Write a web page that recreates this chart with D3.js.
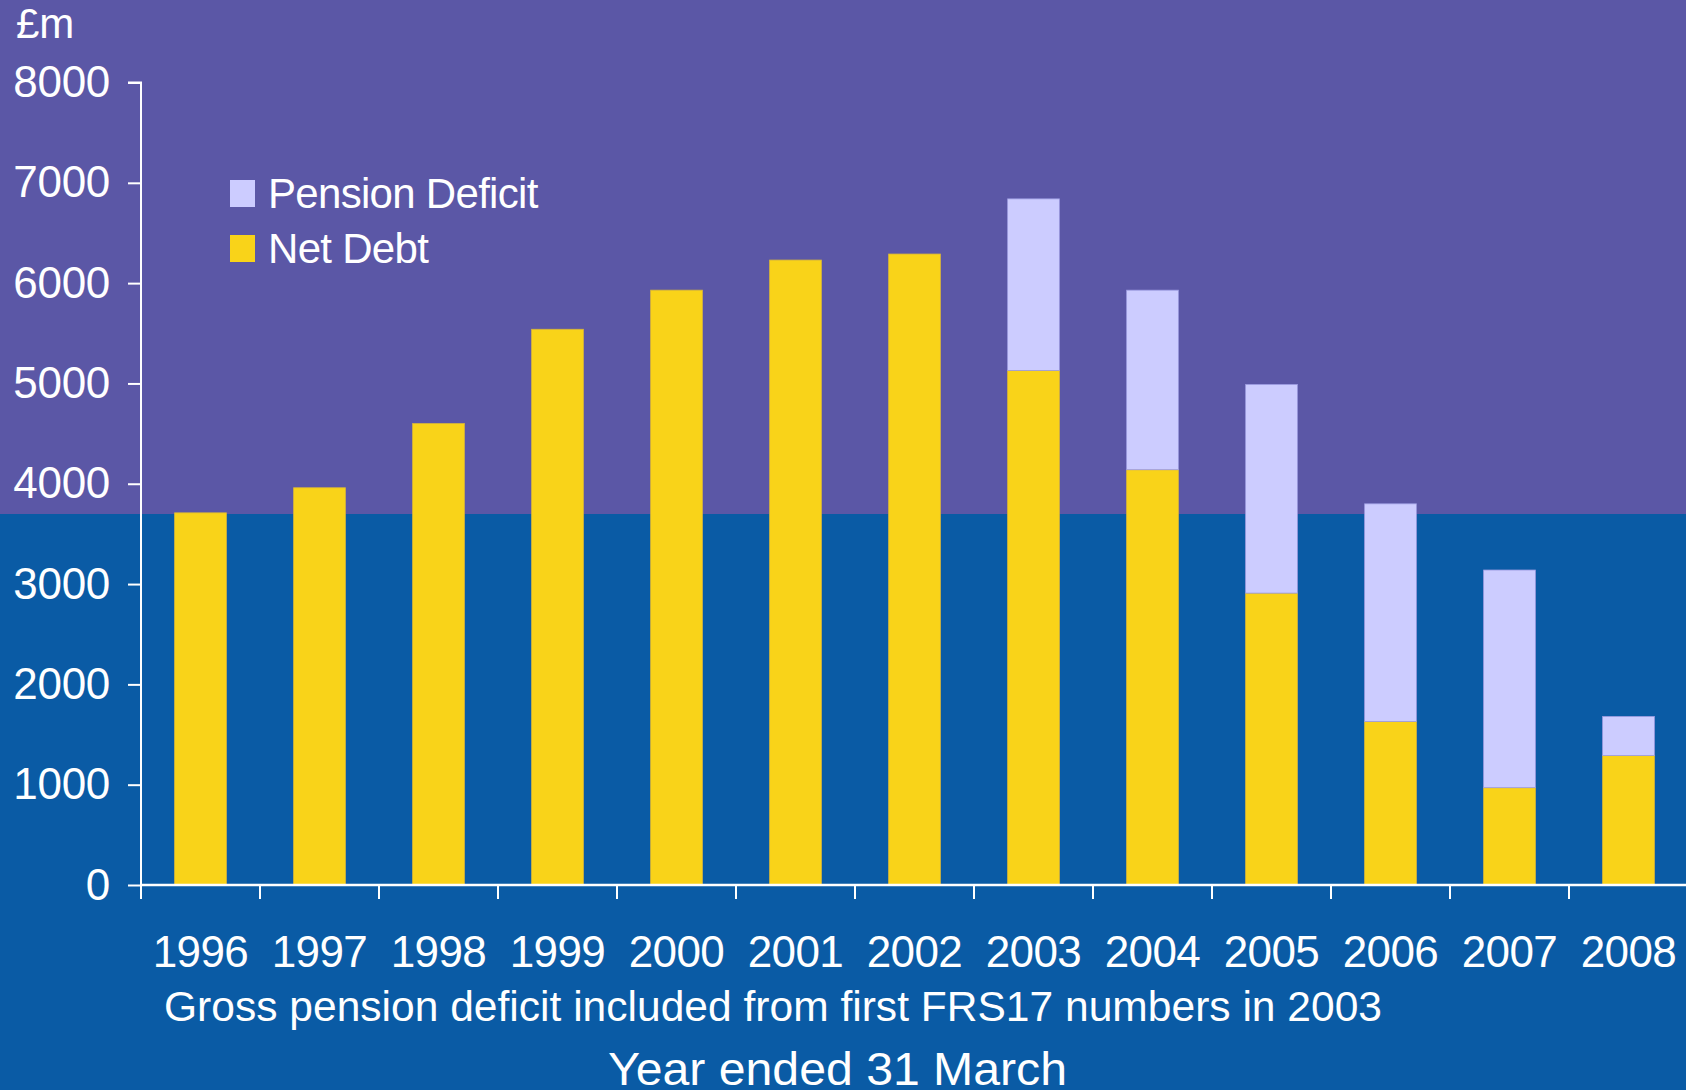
<!DOCTYPE html>
<html>
<head>
<meta charset="utf-8">
<script src="https://cdn.jsdelivr.net/npm/d3@7"></script>
<style>
  html, body { margin: 0; padding: 0; background: #0A5BA5; overflow: hidden; }
  svg { display: block; font-family: "Liberation Sans", Arial, sans-serif; }
</style>
</head>
<body>
<svg id="chart" width="1686" height="1090"></svg>
<script>
// Year ended 31 March
const years = ["1996", "1997", "1998", "1999", "2000", "2001", "2002",
               "2003", "2004", "2005", "2006", "2007", "2008"];
// £m
const netDebt        = [3710, 3960, 4600, 5540, 5930, 6230, 6290, 5130, 4140, 2910, 1630, 970, 1290];
const pensionDeficit = [0, 0, 0, 0, 0, 0, 0, 1710, 1790, 2080, 2170, 2170, 390];
const yTicks = [0, 1000, 2000, 3000, 4000, 5000, 6000, 7000, 8000];
const seriesNames = ["Net Debt", "Pension Deficit"];
const seriesColors = { "Net Debt": "#F9D319", "Pension Deficit": "#CCCCFF" };
const seriesEdges  = { "Net Debt": "#D8B63A", "Pension Deficit": "#9C9BE0" };

const W = 1686, H = 1090;
const left = 141, step = 119;
const svg = d3.select("#chart");

// two-tone backdrop
svg.append("rect").attr("x", 0).attr("y", 0).attr("width", W).attr("height", H).attr("fill", "#0A5BA5");
svg.append("rect").attr("x", 0).attr("y", 0).attr("width", W).attr("height", 514).attr("fill", "#5B57A6");

const y = d3.scaleLinear().domain([0, 8000]).range([885, 82.5]);
const xOuter = d3.scaleBand().domain(years).range([left, left + step * years.length]).padding(0);
const x = d3.scaleBand().domain(years).range([left, left + step * years.length])
  .paddingInner(0.565).paddingOuter(0.2825);

const table = years.map((yr, i) => ({ year: yr, "Net Debt": netDebt[i], "Pension Deficit": pensionDeficit[i] }));
const stacked = d3.stack().keys(seriesNames)(table);

// stacked bars
svg.append("g").selectAll("g").data(stacked).join("g")
  .attr("fill", d => seriesColors[d.key])
  .attr("stroke", d => seriesEdges[d.key])
  .attr("stroke-width", 0.8)
  .selectAll("rect")
  .data(d => d.filter(p => p[1] - p[0] > 0))
  .join("rect")
  .attr("x", d => x(d.data.year))
  .attr("width", x.bandwidth())
  .attr("y", d => y(d[1]))
  .attr("height", d => y(d[0]) - y(d[1]));

// y axis
const yAxis = svg.append("g").attr("transform", `translate(${left},0)`)
  .call(d3.axisLeft(y).tickValues(yTicks).tickFormat(d3.format("d")).tickSize(13).tickPadding(18));
yAxis.select(".domain").attr("stroke", "#fff").attr("stroke-width", 2).attr("d", `M-13,${y(8000)}H0V${y(0)}`);
yAxis.selectAll(".tick line").attr("stroke", "#fff").attr("stroke-width", 2);
yAxis.selectAll(".tick text").attr("fill", "#fff").attr("font-size", 44)
  .attr("font-family", "Liberation Sans, Arial, sans-serif").attr("letter-spacing", -0.3);

// x axis: line along zero with ticks at category boundaries
const xg = svg.append("g");
xg.append("line").attr("x1", left).attr("x2", W).attr("y1", y(0)).attr("y2", y(0))
  .attr("stroke", "#fff").attr("stroke-width", 2.5);
xg.selectAll("line.tk").data(years).join("line").attr("class", "tk")
  .attr("x1", d => xOuter(d)).attr("x2", d => xOuter(d))
  .attr("y1", y(0)).attr("y2", y(0) + 14)
  .attr("stroke", "#fff").attr("stroke-width", 2);
xg.selectAll("text").data(years).join("text")
  .attr("x", d => xOuter(d) + xOuter.bandwidth() / 2)
  .attr("y", 967)
  .attr("text-anchor", "middle")
  .attr("fill", "#fff").attr("font-size", 44).attr("letter-spacing", -0.6)
  .text(d => d);

// unit label
svg.append("text").attr("x", 16).attr("y", 38).attr("fill", "#fff").attr("font-size", 42)
  .text("£m");

// legend
const legend = svg.append("g");
const legendItems = ["Pension Deficit", "Net Debt"];
legend.selectAll("rect").data(legendItems).join("rect")
  .attr("x", 230).attr("y", (d, i) => 180 + i * 55)
  .attr("width", 25).attr("height", 27)
  .attr("fill", d => seriesColors[d]);
legend.selectAll("text").data(legendItems).join("text")
  .attr("x", 268).attr("y", (d, i) => 208 + i * 55)
  .attr("fill", "#fff").attr("font-size", 42).attr("letter-spacing", -0.7)
  .text(d => d);

// notes
svg.append("text").attr("x", 164).attr("y", 1021).attr("fill", "#fff").attr("font-size", 42)
  .attr("textLength", 1218).attr("lengthAdjust", "spacingAndGlyphs")
  .text("Gross pension deficit included from first FRS17 numbers in 2003");
svg.append("text").attr("x", 608).attr("y", 1085).attr("fill", "#fff").attr("font-size", 47)
  .attr("textLength", 459).attr("lengthAdjust", "spacingAndGlyphs")
  .text("Year ended 31 March");
</script>
</body>
</html>
